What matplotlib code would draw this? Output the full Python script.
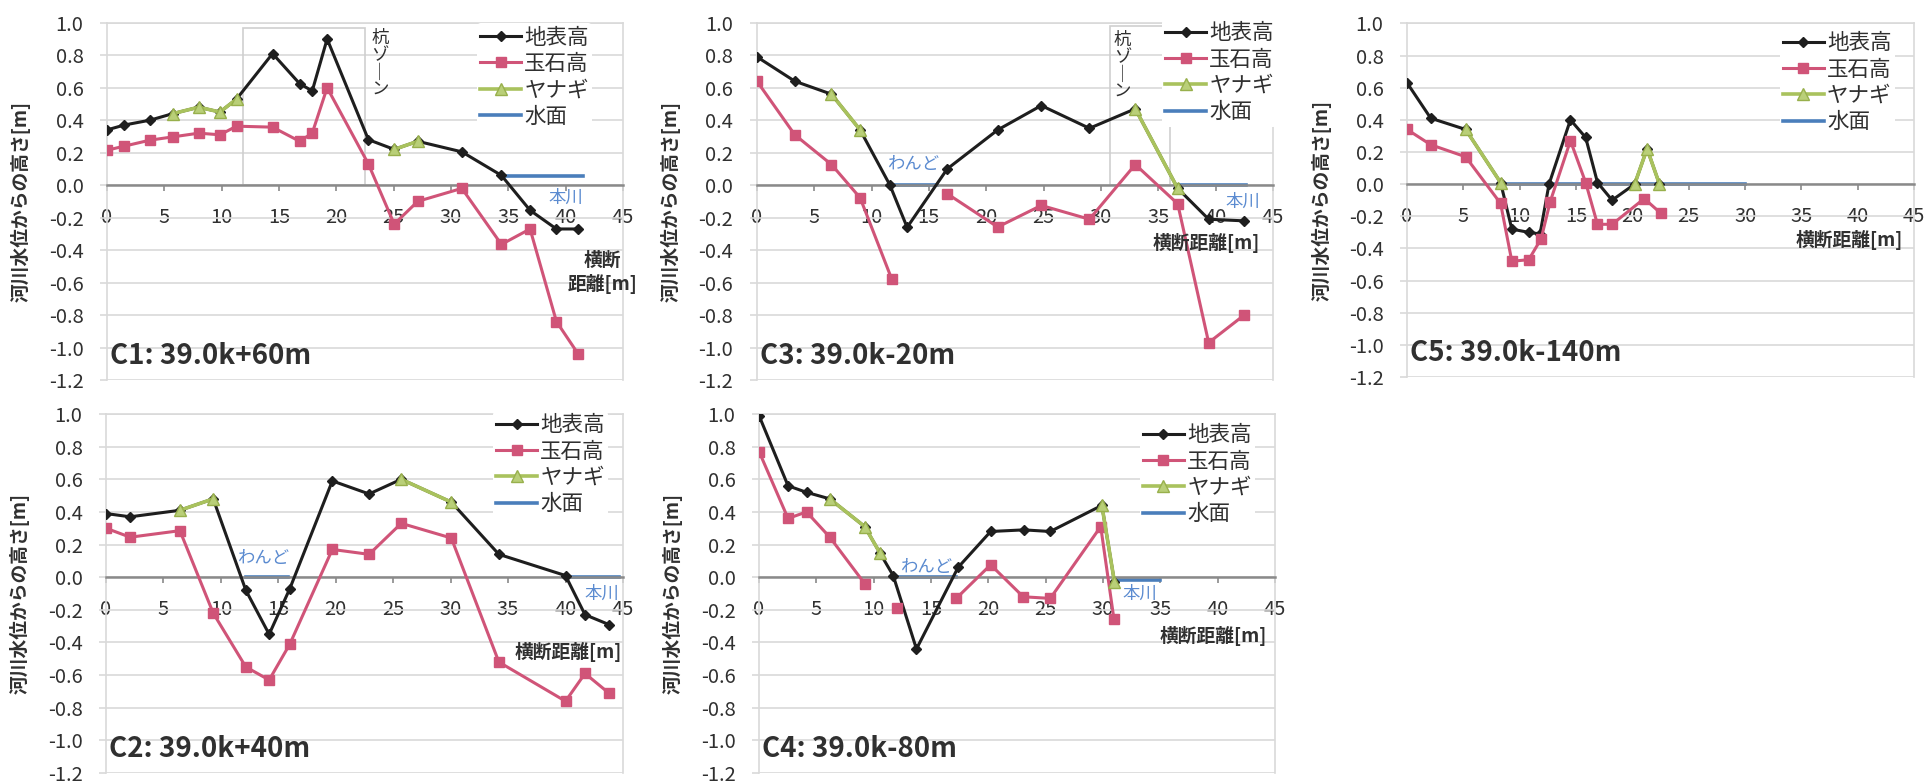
import numpy as np
import matplotlib
matplotlib.use("Agg")
import matplotlib.pyplot as plt
from matplotlib.patches import Rectangle

plt.rcParams['font.family'] = ['Noto Sans CJK JP', 'DejaVu Sans']

nan = np.nan

# ---- C1: 39.0k+60m ----
c1_x = [0, 1.5, 3.75, 5.73, 8.0, 9.85, 11.3, 14.44, 16.8, 17.9, 19.2, 22.8, 25.05, 27.1, 30.95, 34.4, 36.9, 39.2, 41.1]
c1_ground = [0.34, 0.37, 0.40, 0.44, 0.48, 0.45, 0.53, 0.81, 0.625, 0.58, 0.90, 0.28, 0.22, 0.27, 0.205, 0.06, -0.155, -0.27, -0.27]
c1_stone = [0.215, 0.24, 0.277, 0.297, 0.32, 0.31, 0.363, 0.357, 0.27, 0.32, 0.60, 0.13, -0.24, -0.10, -0.02, -0.365, -0.27, -0.84, -1.04]
c1_willow_x = [5.73, 8.0, 9.85, 11.3, nan, 25.05, 27.1]
c1_willow = [0.44, 0.48, 0.45, 0.53, nan, 0.22, 0.27]
c1_water_x = [34.4, 41.5]
c1_water = [0.057, 0.057]

# ---- C2: 39.0k+40m ----
c2_x = [0, 2.1, 6.43, 9.33, 12.17, 14.2, 16.0, 19.7, 22.9, 25.7, 30.06, 34.2, 40.0, 41.7, 43.77]
c2_ground = [0.39, 0.37, 0.41, 0.48, -0.08, -0.35, -0.07, 0.59, 0.51, 0.60, 0.46, 0.14, 0.01, -0.23, -0.29]
c2_stone = [0.30, 0.245, 0.285, -0.22, -0.55, -0.63, -0.41, 0.17, 0.14, 0.33, 0.24, -0.52, -0.76, -0.59, -0.71]
c2_willow_x = [6.43, 9.33, nan, 25.7, 30.06]
c2_willow = [0.41, 0.48, nan, 0.60, 0.46]
c2_water_x = [12.17, 15.8, nan, 40.0, 44.7]
c2_water = [0, 0, nan, 0, 0]

# ---- C3: 39.0k-20m ----
c3_x = [0, 3.3, 6.5, 9.0, 11.6, 13.1, 16.6, 21.0, 24.8, 29.0, 33.0, 36.7, 39.4, 42.5]
c3_ground = [0.79, 0.64, 0.56, 0.34, 0.0, -0.26, 0.10, 0.34, 0.49, 0.35, 0.47, -0.02, -0.21, -0.22]
c3_stone_x = [0, 3.3, 6.5, 9.0, 11.75, nan, 16.6, 21.0, 24.8, 29.0, 33.0, 36.7, 39.4, 42.5]
c3_stone = [0.64, 0.31, 0.127, -0.078, -0.577, nan, -0.053, -0.258, -0.125, -0.21, 0.127, -0.115, -0.97, -0.80]
c3_willow_x = [6.5, 9.0, nan, 33.0, 36.7]
c3_willow = [0.56, 0.34, nan, 0.47, -0.02]
c3_water_x = [11.6, 15.7, nan, 36.7, 42.7]
c3_water = [0, 0, nan, 0, 0]

# ---- C4: 39.0k-80m ----
c4_x = [0, 2.53, 4.14, 6.17, 9.22, 10.53, 11.7, 13.73, 17.36, 20.2, 23.1, 25.4, 29.9, 31.0]
c4_ground = [0.99, 0.56, 0.52, 0.48, 0.31, 0.15, 0.01, -0.44, 0.06, 0.28, 0.29, 0.28, 0.44, -0.03]
c4_stone_x = [0, 2.53, 4.14, 6.17, 9.22, nan, 12.0, nan, 17.2, 20.2, 23.04, 25.4, 29.8, 30.95]
c4_stone = [0.77, 0.36, 0.40, 0.245, -0.04, nan, -0.19, nan, -0.13, 0.076, -0.12, -0.13, 0.31, -0.255]
c4_willow_x = [6.17, 9.22, 10.53, nan, 29.9, 31.0]
c4_willow = [0.48, 0.31, 0.15, nan, 0.44, -0.03]
c4_water_x = [11.7, 17.2, nan, 31.0, 35.0]
c4_water = [0, 0, nan, -0.02, -0.02]

# ---- C5: 39.0k-140m ----
c5_x = [0, 2.1, 5.2, 8.3, 9.3, 10.8, 11.8, 12.6, 14.5, 15.85, 16.9, 18.2, 20.2, 21.3, 22.4]
c5_ground = [0.63, 0.41, 0.34, 0.01, -0.28, -0.30, -0.31, 0.0, 0.40, 0.29, 0.01, -0.10, 0.0, 0.22, 0.0]
c5_stone_x = [0, 2.1, 5.2, 8.3, 9.3, 10.8, 11.9, 12.7, 14.5, 15.85, 16.9, 18.2, 21.05, 22.5]
c5_stone = [0.34, 0.245, 0.17, -0.12, -0.48, -0.47, -0.34, -0.11, 0.27, 0.01, -0.25, -0.25, -0.09, -0.18]
c5_willow_x = [5.2, 8.3, nan, 20.2, 21.3, 22.4]
c5_willow = [0.34, 0.01, nan, 0.0, 0.22, 0.0]
c5_water_x = [8.3, 30.0]
c5_water = [0, 0]

series_names = ['地表高', '玉石高', 'ヤナギ', '水面']
titles = ['C1: 39.0k+60m', 'C2: 39.0k+40m', 'C3: 39.0k-20m', 'C4: 39.0k-80m', 'C5: 39.0k-140m']
ylabel = '河川水位からの高さ[m]'
pile_zone = '杭\nゾ\n｜\nン'

panels = [
    dict(title=titles[0], rect=[0.0555, 0.5153, 0.2676, 0.4557],
         gx=c1_x, gy=c1_ground, sx=c1_x, sy=c1_stone, wx=c1_willow_x, wy=c1_willow,
         fx=c1_water_x, fy=c1_water,
         notes=[('本川', 40.0, -0.08)], xlab=('横断\n距離[m]', 43.2, -0.535),
         leg=(0.94, 0.998), box=(11.9, 10.6, 0.97), pile=(23.8, 0.96)),
    dict(title=titles[1], rect=[0.055, 0.01403, 0.2681, 0.4579],
         gx=c2_x, gy=c2_ground, sx=c2_x, sy=c2_stone, wx=c2_willow_x, wy=c2_willow,
         fx=c2_water_x, fy=c2_water,
         notes=[('わんど', 13.7, 0.12), ('本川', 43.2, -0.10)], xlab=('横断距離[m]', 40.2, -0.46),
         leg=(0.971, 1.008), box=None, pile=None),
    dict(title=titles[2], rect=[0.3926, 0.5153, 0.2676, 0.4557],
         gx=c3_x, gy=c3_ground, sx=c3_stone_x, sy=c3_stone, wx=c3_willow_x, wy=c3_willow,
         fx=c3_water_x, fy=c3_water,
         notes=[('わんど', 13.6, 0.13), ('本川', 42.4, -0.10)], xlab=('横断距離[m]', 39.2, -0.355),
         leg=(1.008, 1.01), box=(30.8, 5.2, 0.98), pile=(31.9, 0.95)),
    dict(title=titles[3], rect=[0.3937, 0.01403, 0.2676, 0.4579],
         gx=c4_x, gy=c4_ground, sx=c4_stone_x, sy=c4_stone, wx=c4_willow_x, wy=c4_willow,
         fx=c4_water_x, fy=c4_water,
         notes=[('わんど', 14.6, 0.06), ('本川', 33.2, -0.10)], xlab=('横断距離[m]', 39.6, -0.36),
         leg=(0.961, 0.98), box=None, pile=None),
    dict(title=titles[4], rect=[0.7298, 0.5191, 0.263, 0.4511],
         gx=c5_x, gy=c5_ground, sx=c5_stone_x, sy=c5_stone, wx=c5_willow_x, wy=c5_willow,
         fx=c5_water_x, fy=c5_water,
         notes=[], xlab=('横断距離[m]', 39.2, -0.345),
         leg=(0.962, 0.984), box=None, pile=None),
]

TXT = '#303030'
GRID = '#d9d9d9'

fig = plt.figure(figsize=(19.28, 7.84), dpi=100)

for p in panels:
    ax = fig.add_axes(p['rect'])
    ax.set_xlim(0, 45)
    ax.set_ylim(-1.2, 1.0)
    yt = np.linspace(-1.2, 1.0, 12)
    ax.set_yticks(yt)
    ax.set_yticklabels([f'{v + 0.0:.1f}' for v in np.round(yt, 1) + 0.0])
    ax.set_xticks(np.arange(0, 46, 5))
    ax.grid(axis='y', color=GRID, lw=1.2)
    ax.set_axisbelow(True)
    for s in ['left', 'right', 'top']:
        ax.spines[s].set_color(GRID)
        ax.spines[s].set_linewidth(1.2)
    ax.spines['bottom'].set_position(('data', 0))
    ax.spines['bottom'].set_color('#8a8a8a')
    ax.spines['bottom'].set_linewidth(1.8)
    ax.tick_params(axis='x', direction='out', length=4, width=1.2, color='#8a8a8a',
                   pad=12, labelsize=14.5, labelcolor=TXT)
    ax.tick_params(axis='y', length=5, width=1.2, color=GRID, pad=12,
                   labelsize=14.5, labelcolor=TXT)
    ax.set_ylabel(ylabel, fontsize=13.5, fontweight='bold', color=TXT)
    ax.yaxis.set_label_coords(-0.148, 0.5)

    ax.plot(p['gx'], p['gy'], color='#1e1e1e', lw=2.2, marker='D', ms=5.5,
            zorder=3, label=series_names[0])
    ax.plot(p['sx'], p['sy'], color='#d05478', lw=2.2, marker='s', ms=6.5,
            zorder=3, label=series_names[1])
    ax.plot(p['wx'], p['wy'], color='#a9c25d', lw=2.6, marker='^', ms=8,
            mfc='#b9cf78', mec='#98b04c', zorder=4, label=series_names[2])
    ax.plot(p['fx'], p['fy'], color='#4a7ebb', lw=2.6, zorder=2.5, label=series_names[3])

    for txt, nx, ny in p['notes']:
        ax.text(nx, ny, txt, fontsize=12.5, color='#5b8bd0', ha='center', va='center', zorder=6)

    lx_txt, lx, ly = p['xlab']
    ax.text(lx, ly, lx_txt, fontsize=13.5, fontweight='bold', color=TXT,
            ha='center', va='center', linespacing=1.25)

    if p['box'] is not None:
        bx, bw, bh = p['box']
        ax.add_patch(Rectangle((bx, 0), bw, bh, fill=False, ec='#cfcfcf', lw=1.2, zorder=2))
    if p['pile'] is not None:
        px, py = p['pile']
        ax.text(px, py, pile_zone, fontsize=12.5, color=TXT, ha='center', va='top',
                linespacing=0.95, zorder=6)

    ax.text(0.25, -1.05, p['title'], fontsize=20, fontweight='bold', color=TXT,
            ha='left', va='center', zorder=6)

    ax.legend(loc='upper right', bbox_to_anchor=p['leg'], borderaxespad=0,
              borderpad=0.15, frameon=True, facecolor='white', edgecolor='none',
              framealpha=1, fontsize=15.5, handlelength=1.9, handletextpad=0.15,
              labelspacing=0.2, labelcolor=TXT)

fig.savefig('out.png', dpi=100)
